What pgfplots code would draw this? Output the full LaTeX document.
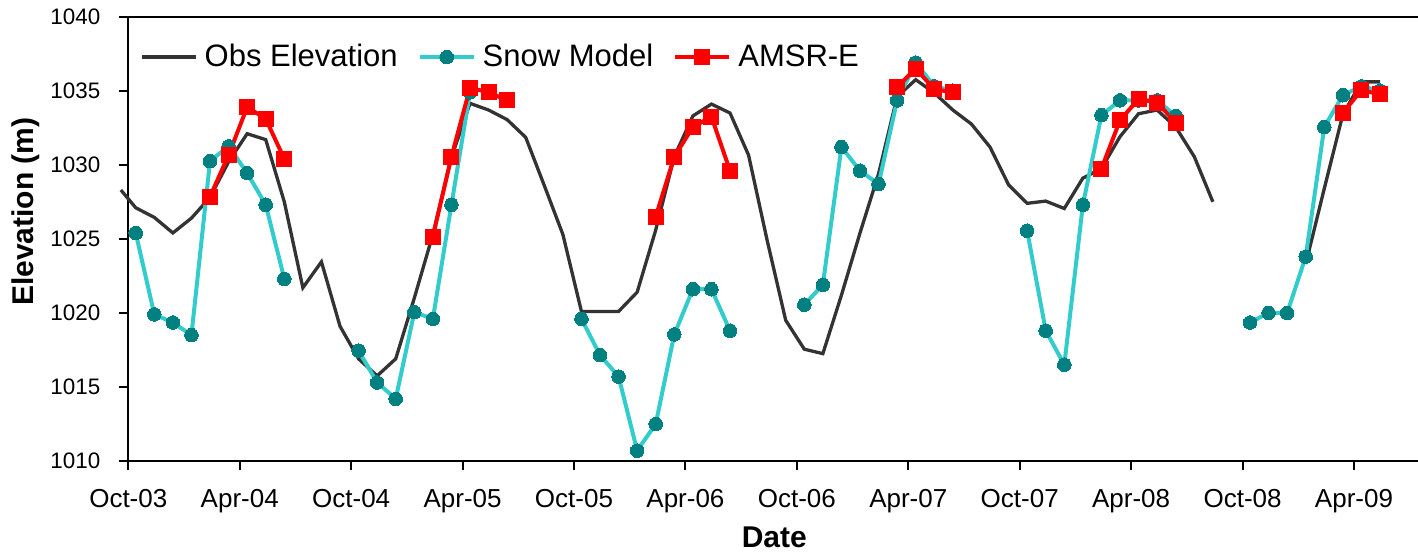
\documentclass[border=0pt]{standalone}
\usepackage{fontspec}
\setmainfont{Liberation Sans}
\usepackage{pgfplots}
\pgfplotsset{compat=1.18}
\definecolor{obs}{HTML}{333333}
\definecolor{snowline}{HTML}{33CCCC}
\definecolor{snowmark}{HTML}{008080}
\begin{document}
\begin{tikzpicture}
\useasboundingbox (-64.15pt,-46.5pt) rectangle (644.85pt,230.5pt);
\begin{axis}[
  at={(0,0)}, anchor=south west,
  scale only axis, width=646pt, height=222.15pt,
  xmin=0, xmax=69.57, ymin=1010, ymax=1040,
  clip=false,
  unbounded coords=jump,
  axis line style={line width=1pt, black},
  tick style={line width=1pt, black},
  tick align=outside, major tick length=4.5pt,
  xtick pos=bottom, ytick pos=left,
  xtick={0,6,...,66},
  xticklabels={Oct-03,Apr-04,Oct-04,Apr-05,Oct-05,Apr-06,Oct-06,Apr-07,Oct-07,Apr-08,Oct-08,Apr-09},
  ytick={1010,1015,...,1040},
  /pgf/number format/assume math mode=true,
  /pgf/number format/1000 sep={},
  y tick label style={font=\fontsize{11.2}{13}\selectfont, xshift=-6pt},
  x tick label style={font=\fontsize{13}{15}\selectfont, yshift=-6pt},
  xlabel={Date}, ylabel={Elevation (m)},
  label style={font=\bfseries\fontsize{15}{18}\selectfont},
  xlabel style={at={(axis description cs:0.5,0)}, anchor=center, yshift=-38pt},
  ylabel style={at={(axis description cs:0,0.561)}, anchor=center, yshift=51.5pt},
  legend columns=-1,
  legend cell align=left,
  legend style={at={(axis description cs:0.0091,0.909)}, anchor=west,
    draw=none, fill=none, inner sep=0pt,
    font=\fontsize{15.5}{18}\selectfont,
    nodes={inner sep=0pt},
    /tikz/every odd column/.append style={column sep=3.5pt},
    /tikz/every even column/.append style={column sep=10pt}},
  legend image code/.code={\draw[mark repeat=2, mark phase=2] plot coordinates {(0pt,0pt) (13.5pt,0pt) (27pt,0pt)};},
]
\addplot[obs, line width=1.65pt] coordinates {
(-0.4,1028.3) (0.4,1027.1) (1.4,1026.45) (2.4,1025.4) (3.4,1026.4) (4.4,1027.8) (5.4,1030.2)
(6.4,1032.1) (7.4,1031.7) (8.4,1027.5) (9.4,1021.7) (10.4,1023.45) (11.4,1019.1)
(12.4,1016.9) (13.4,1015.75) (14.4,1016.9) (15.4,1021.0) (16.4,1025.3) (17.4,1030.5)
(18.4,1034.15) (19.4,1033.7) (20.4,1033.05) (21.4,1031.85) (22.4,1028.6) (23.4,1025.3)
(24.4,1020.1) (25.4,1020.1) (26.4,1020.1) (27.4,1021.4) (28.4,1025.6) (29.4,1030.55)
(30.4,1033.3) (31.4,1034.1) (32.4,1033.5) (33.4,1030.65) (34.4,1024.9) (35.4,1019.5)
(36.4,1017.55) (37.4,1017.25) (38.4,1021.2) (39.4,1025.4) (40.4,1029.4) (41.4,1034.6)
(42.4,1035.75) (43.4,1034.85) (44.4,1033.7) (45.4,1032.75) (46.4,1031.2) (47.4,1028.65)
(48.4,1027.4) (49.4,1027.55) (50.4,1027.05) (51.4,1029.1) (52.4,1029.75) (53.4,1031.9)
(54.4,1033.45) (55.4,1033.7) (56.4,1032.55) (57.4,1030.55) (58.4,1027.5)
(60,nan)
(63.4,1023.3) (64.4,1028.4) (65.4,1033.4) (66.4,1035.6) (67.4,1035.6)
};
\addlegendentry{Obs Elevation}
\addplot[snowline, line width=2pt, mark=*, mark size=3.4pt,
  mark options={fill=snowmark, draw=snowmark, line width=0pt}] coordinates {
(0.4,1025.4) (1.4,1019.9) (2.4,1019.35) (3.4,1018.5) (4.4,1030.25) (5.4,1031.25)
(6.4,1029.45) (7.4,1027.3) (8.4,1022.3)
(10,nan)
(12.4,1017.45) (13.4,1015.3) (14.4,1014.2) (15.4,1020.05) (16.4,1019.6) (17.4,1027.3) (18.4,1034.9)
(20,nan)
(24.4,1019.6) (25.4,1017.15) (26.4,1015.7) (27.4,1010.7) (28.4,1012.5) (29.4,1018.55)
(30.4,1021.6) (31.4,1021.6) (32.4,1018.8)
(34,nan)
(36.4,1020.55) (37.4,1021.9) (38.4,1031.2) (39.4,1029.6) (40.4,1028.7) (41.4,1034.35)
(42.4,1036.9) (43.4,1035.3) (44.4,1035.0)
(46,nan)
(48.4,1025.55) (49.4,1018.8) (50.4,1016.5) (51.4,1027.3) (52.4,1033.35) (53.4,1034.35)
(54.4,1034.35) (55.4,1034.35) (56.4,1033.3)
(58,nan)
(60.4,1019.35) (61.4,1020.0) (62.4,1020.0) (63.4,1023.8) (64.4,1032.55) (65.4,1034.7)
(66.4,1035.3) (67.4,1035.0)
};
\addlegendentry{Snow Model}
\addplot[red, line width=2pt, mark=square*, mark size=3.75pt,
  mark options={fill=red, draw=red, line width=0pt}] coordinates {
(4.4,1027.85) (5.4,1030.65) (6.4,1033.9) (7.4,1033.1) (8.4,1030.4)
(10,nan)
(16.4,1025.15) (17.4,1030.55) (18.4,1035.2) (19.4,1034.9) (20.4,1034.35)
(22,nan)
(28.4,1026.5) (29.4,1030.55) (30.4,1032.55) (31.4,1033.25) (32.4,1029.6)
(34,nan)
(41.4,1035.25) (42.4,1036.5) (43.4,1035.1) (44.4,1034.9)
(46,nan)
(52.4,1029.75) (53.4,1033.0) (54.4,1034.45) (55.4,1034.2) (56.4,1032.85)
(58,nan)
(65.4,1033.5) (66.4,1035.05) (67.4,1034.75)
};
\addlegendentry{AMSR-E}
\end{axis}
\end{tikzpicture}
\end{document}
